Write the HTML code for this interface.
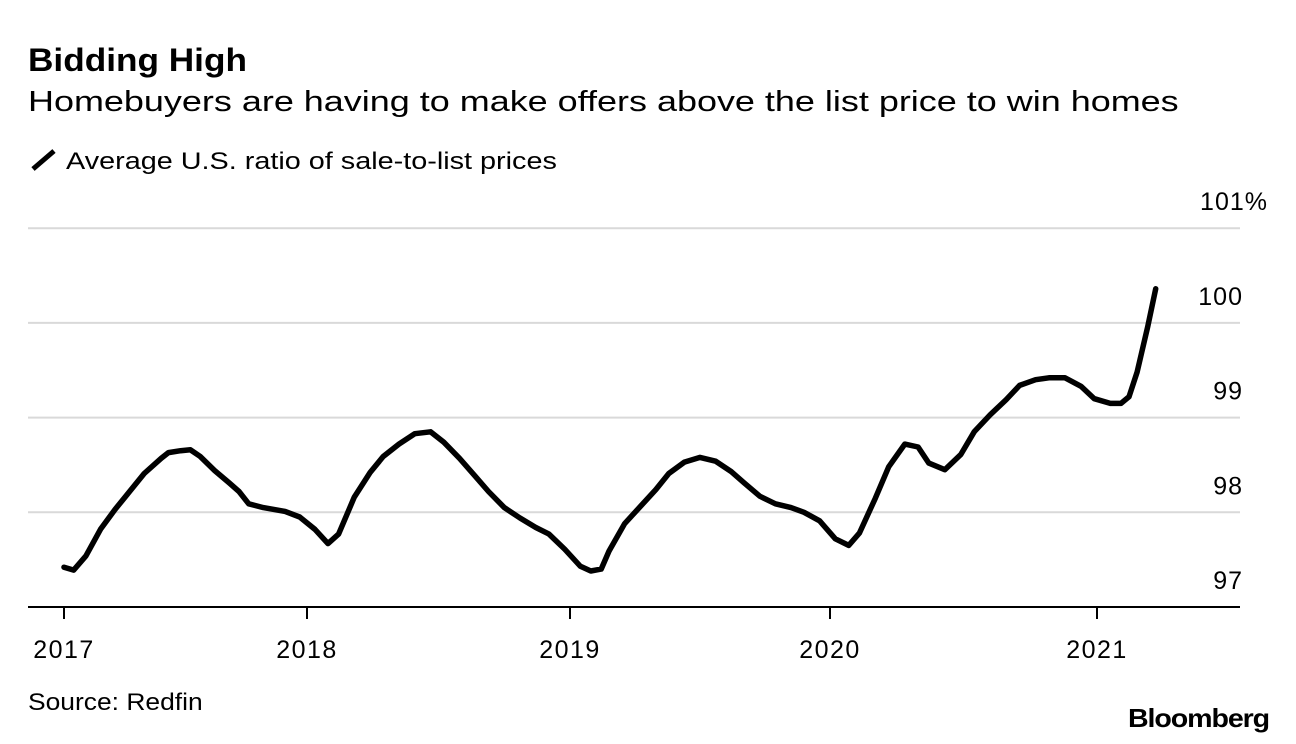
<!DOCTYPE html>
<html><head><meta charset="utf-8"><style>
body{margin:0;background:#fff;font-family:"Liberation Sans",sans-serif;color:#000}
#wrap{position:relative;width:1296px;height:744px;overflow:hidden}
.t{position:absolute;white-space:nowrap;transform-origin:0 0}
</style></head><body>
<div id="wrap">
<div class="t" style="left:28px;top:42px;font-size:32px;font-weight:bold;transform:scaleX(1.1)">Bidding High</div>
<div class="t" style="left:28px;top:86px;font-size:29px;transform:scaleX(1.24)">Homebuyers are having to make offers above the list price to win homes</div>
<div class="t" style="left:30px;top:148px;font-size:24px"><svg width="30" height="24" style="vertical-align:-3px;margin-right:6px"><line x1="3" y1="21" x2="24" y2="3" stroke="#000" stroke-width="5"/></svg><span style="display:inline-block;transform-origin:0 0;transform:scaleX(1.2)">Average U.S. ratio of sale-to-list prices</span></div>
<svg id="chart" width="1296" height="744" style="position:absolute;left:0;top:0"></svg>
<div class="t" style="left:28px;top:689px;font-size:24px;transform:scaleX(1.1)">Source: Redfin</div>
<div class="t" style="left:1128px;top:703px;font-size:26px;font-weight:bold;letter-spacing:-1px;transform:scaleX(1.1)">Bloomberg</div>
</div>
<script>
const dates=[2017.00,2017.04,2017.09,2017.15,2017.21,2017.27,2017.33,2017.40,2017.43,2017.48,2017.52,2017.56,2017.62,2017.68,2017.72,2017.76,2017.82,2017.91,2017.97,2018.03,2018.08,2018.12,2018.18,2018.24,2018.29,2018.35,2018.41,2018.47,2018.52,2018.58,2018.64,2018.69,2018.75,2018.81,2018.87,2018.92,2018.98,2019.04,2019.08,2019.12,2019.15,2019.21,2019.27,2019.33,2019.38,2019.44,2019.50,2019.56,2019.62,2019.67,2019.73,2019.79,2019.85,2019.90,2019.96,2020.02,2020.07,2020.11,2020.17,2020.22,2020.28,2020.33,2020.37,2020.43,2020.49,2020.54,2020.60,2020.66,2020.71,2020.77,2020.82,2020.88,2020.94,2020.99,2021.05,2021.09,2021.12,2021.15,2021.19,2021.22];
const ratios=[97.42,97.39,97.54,97.82,98.03,98.22,98.41,98.57,98.63,98.65,98.66,98.59,98.44,98.31,98.22,98.09,98.05,98.01,97.95,97.82,97.67,97.77,98.16,98.42,98.59,98.72,98.83,98.85,98.74,98.57,98.38,98.22,98.05,97.94,97.84,97.77,97.61,97.43,97.38,97.40,97.59,97.88,98.06,98.24,98.41,98.53,98.58,98.54,98.43,98.31,98.17,98.09,98.05,98.00,97.91,97.72,97.65,97.78,98.15,98.48,98.72,98.69,98.52,98.45,98.61,98.85,99.03,99.19,99.34,99.40,99.42,99.42,99.33,99.20,99.15,99.15,99.22,99.48,99.96,100.36];
const yTicks=[97,98,99,100,101];
const yTickLabels=["97","98","99","100","101%"];
const xTicks=[2017,2018,2019,2020,2021];
const xTickLabels=["2017","2018","2019","2020","2021"];
const ns="http://www.w3.org/2000/svg",svg=document.getElementById('chart');
const xPix=[64,307,570,830,1097];
function xs(d){let i=0;while(i<xTicks.length-2&&d>xTicks[i+1])i++;return xPix[i]+(d-xTicks[i])*(xPix[i+1]-xPix[i])/(xTicks[i+1]-xTicks[i]);}
function ys(v){return 607-(v-97)*94.7;}
function mk(t,a){const e=document.createElementNS(ns,t);for(const k in a)e.setAttribute(k,a[k]);svg.appendChild(e);return e;}
yTicks.forEach((v,i)=>{
 if(i>0){const g=mk('line',{x1:28,x2:1240,y1:ys(v),y2:ys(v),stroke:'#d9d9d9','stroke-width':2});
 
 }
 const t=mk('text',{x:i==4?1268:1243,y:ys(v)-18,'text-anchor':'end','font-size':25,'letter-spacing':1,'font-family':'Liberation Sans, sans-serif'});
 t.textContent=yTickLabels[i];
 
 
});
const ax=mk('line',{x1:28,x2:1240,y1:607,y2:607,stroke:'#000','stroke-width':2});


xTicks.forEach((d,i)=>{
 const tk=mk('line',{x1:xs(d),x2:xs(d),y1:607,y2:619,stroke:'#000','stroke-width':2});
 
 
 const t=mk('text',{x:xs(d),y:658,'text-anchor':'middle','font-size':25,'letter-spacing':1.5,'font-family':'Liberation Sans, sans-serif'});
 t.textContent=xTickLabels[i];
 
 
});
const p=mk('path',{d:dates.map((d,i)=>(i?'L':'M')+xs(d).toFixed(1)+','+ys(ratios[i]).toFixed(1)).join(''),fill:'none',stroke:'#000','stroke-width':5.5,'stroke-linejoin':'round','stroke-linecap':'round'});


</script>
</body></html>
